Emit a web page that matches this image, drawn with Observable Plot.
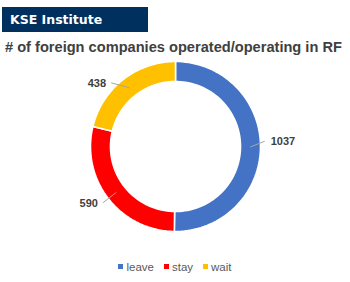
<!DOCTYPE html>
<html><head><meta charset="utf-8">
<script src="https://cdn.jsdelivr.net/npm/d3@7"></script>
<script src="https://cdn.jsdelivr.net/npm/@observablehq/plot@0.6"></script>
<style>
html,body{margin:0;padding:0;background:#fff;width:350px;height:282px;overflow:hidden;font-family:"Liberation Sans",Arial,sans-serif;}
#hdr{position:absolute;left:2px;top:7px;width:146px;height:25px;background:#00305E;color:#fff;font-family:"DejaVu Sans",Verdana,sans-serif;font-weight:bold;font-size:12.5px;line-height:25px;padding-left:8px;box-sizing:border-box;}
#title{position:absolute;left:5px;top:39px;font-weight:bold;font-size:15px;color:#404040;white-space:nowrap;}
#chart{position:absolute;left:0;top:56px;}
#legend{position:absolute;left:0;width:350px;top:261px;text-align:center;font-size:11.5px;color:#595959;}
#legend span.it{display:inline-block;margin:0 5px;}
#legend span.sw{display:inline-block;width:5px;height:5px;margin-right:3px;vertical-align:middle;position:relative;top:-1px;}
</style></head>
<body>
<div id="hdr">KSE Institute</div>
<div id="title"># of foreign companies operated/operating in RF</div>
<div id="chart"></div>
<div id="legend"></div>
<script>
const categories = ["leave", "stay", "wait"];
const values = [1037, 590, 438];
const colors = ["#4472C4", "#FF0000", "#FFC000"];

const t = document.getElementById("title");
const tw = t.getBoundingClientRect().width;
t.style.fontSize = (15 * 337 / tw) + "px";

const W = 350, H = 180, R = 85, r0 = 65, cx = 175, cy = 90;
const pie = d3.pie().sort(null).value(d => d.value)(categories.map((c, i) => ({name: c, value: values[i], color: colors[i]})));

const pt = (a, rad) => ({x: rad * Math.sin(a), y: rad * Math.cos(a)});
const polys = pie.map(s => {
  const n = 80, pts = [];
  for (let k = 0; k <= n; k++) pts.push(pt(s.startAngle + (s.endAngle - s.startAngle) * k / n, 1));
  for (let k = n; k >= 0; k--) pts.push(pt(s.startAngle + (s.endAngle - s.startAngle) * k / n, r0 / R));
  pts.push(pts[0]);
  return {s, pts};
});

// leader-line end nudges (layout only, in outer-radius units)
const nudge = {leave: [-0.03, 0.07], stay: [0, 0], wait: [-0.09, -0.1]};
const labelData = pie.map(s => {
  const m = (s.startAngle + s.endAngle) / 2;
  const a = pt(m, 0.88), b = pt(m, 1.08);
  const right = Math.sin(m) > 0;
  const [nx, ny] = nudge[s.data.name];
  return {name: s.data.name, value: s.data.value, x1: a.x, y1: a.y, x2: b.x + nx, y2: b.y + ny, right};
});
const rightLabels = labelData.filter(d => d.right);
const leftLabels = labelData.filter(d => !d.right);
const textOpts = {x: "x2", y: "y2", text: d => String(d.value), fontWeight: "bold", fontSize: 11, fill: "#404040", fontFamily: "Liberation Sans, Arial, sans-serif"};

const chart = Plot.plot({
  width: W, height: H,
  margin: 0,
  x: {domain: [-cx / R, (W - cx) / R], axis: null},
  y: {domain: [-(H - cy) / R, cy / R], axis: null},
  marks: [
    ...polys.map(p => Plot.line(p.pts, {x: "x", y: "y", fill: p.s.data.color, stroke: "white", strokeWidth: 1.6, curve: "linear"})),
    Plot.link(labelData, {x1: "x1", y1: "y1", x2: "x2", y2: "y2", stroke: "#A6A6A6", strokeWidth: 1}),
    Plot.text(rightLabels, {...textOpts, textAnchor: "start", dx: 6}),
    Plot.text(leftLabels, {...textOpts, textAnchor: "end", dx: -5, dy: 1})
  ]
});
document.getElementById("chart").appendChild(chart);

const lg = document.getElementById("legend");
categories.forEach((c, i) => {
  const it = document.createElement("span"); it.className = "it";
  const sw = document.createElement("span"); sw.className = "sw"; sw.style.background = colors[i];
  it.appendChild(sw); it.appendChild(document.createTextNode(c));
  lg.appendChild(it);
});
</script>
</body></html>
